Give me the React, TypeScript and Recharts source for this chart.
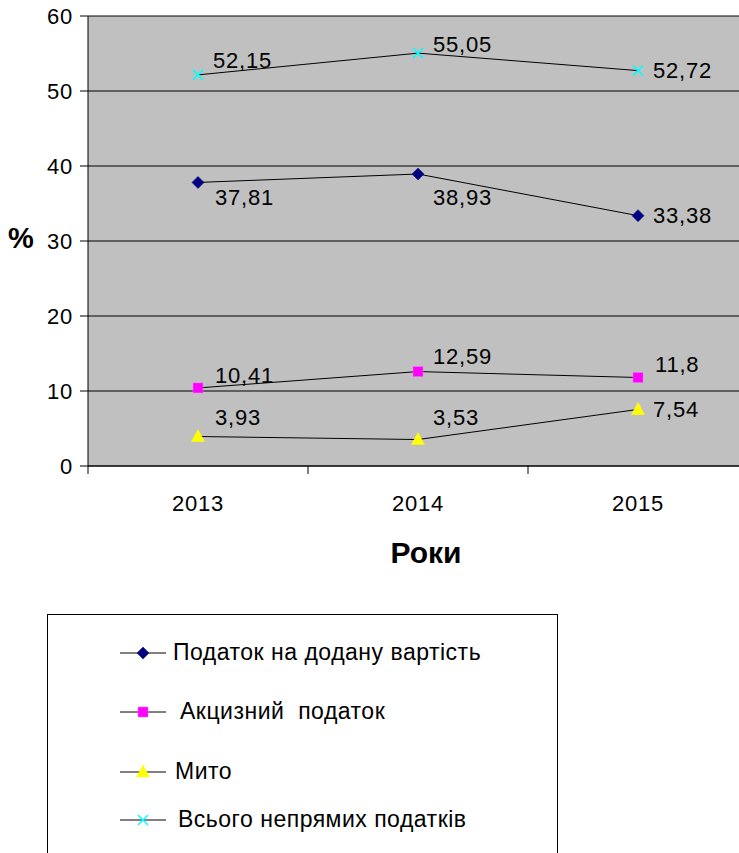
import React from 'react';
import { LineChart, Line, XAxis, YAxis, CartesianGrid, LabelList, Label } from 'recharts';

// ---- data ----
const years = ['2013', '2014', '2015'];
const vatValues = [37.81, 38.93, 33.38];
const exciseValues = [10.41, 12.59, 11.8];
const dutyValues = [3.93, 3.53, 7.54];
const totalValues = [52.15, 55.05, 52.72];
const yTicks = [0, 10, 20, 30, 40, 50, 60];
const seriesNames = {
  vat: 'Податок на додану вартість',
  excise: 'Акцизний  податок',
  duty: 'Мито',
  total: 'Всього непрямих податків',
};
const xTitle = 'Роки';
const yTitle = '%';

const data = years.map((year, i) => ({
  x: i + 0.5,
  year,
  vat: vatValues[i],
  excise: exciseValues[i],
  duty: dutyValues[i],
  total: totalValues[i],
}));

// ---- styles ----
const FONT = '"Liberation Sans", Arial, sans-serif';
const FS = 22;
const COLORS = { vat: '#000080', excise: '#FF00FF', duty: '#FFFF00', total: '#00FFFF' };

// label offsets (dx from marker to text start, dy from marker to text centre)
const LABEL_OFFSETS: Record<string, { dx: number; dy: number }[]> = {
  total: [{ dx: 15, dy: -15 }, { dx: 15, dy: -9 }, { dx: 15, dy: -1 }],
  vat: [{ dx: 17, dy: 15 }, { dx: 15, dy: 23 }, { dx: 15, dy: -1 }],
  excise: [{ dx: 17, dy: -13 }, { dx: 15, dy: -15 }, { dx: 17, dy: -13 }],
  duty: [{ dx: 17, dy: -19 }, { dx: 15, dy: -22 }, { dx: 15, dy: 0 }],
};

const fmt = (v: number) => String(v).replace('.', ',');

const makeLabel = (key: string) => (props: any) => {
  const { x, y, value, index } = props;
  const o = LABEL_OFFSETS[key][index] || { dx: 15, dy: 0 };
  return (
    <text
      key={`${key}-lbl-${index}`}
      x={x + o.dx}
      y={y + o.dy}
      dy="0.36em"
      fontSize={FS}
      fontFamily={FONT}
      fill="#000"
      letterSpacing={0.8}
      textAnchor="start"
    >
      {fmt(value)}
    </text>
  );
};

const Marker = ({ kind, cx, cy }: { kind: string; cx: number; cy: number }) => {
  if (kind === 'vat') {
    const r = 6;
    return (
      <polygon
        points={`${cx},${cy - r} ${cx + r},${cy} ${cx},${cy + r} ${cx - r},${cy}`}
        fill={COLORS.vat}
        stroke={COLORS.vat}
        strokeWidth={0.5}
      />
    );
  }
  if (kind === 'excise') {
    return <rect x={cx - 5} y={cy - 5} width={10} height={10} fill={COLORS.excise} stroke="#ff66ff" strokeWidth={0.5} />;
  }
  if (kind === 'duty') {
    return (
      <polygon
        points={`${cx},${cy - 7} ${cx + 6.5},${cy + 5} ${cx - 6.5},${cy + 5}`}
        fill={COLORS.duty}
        stroke={COLORS.duty}
        strokeWidth={0.5}
      />
    );
  }
  const r = 5;
  return (
    <g stroke={COLORS.total} strokeWidth={1.5}>
      <line x1={cx - r} y1={cy - r} x2={cx + r} y2={cy + r} />
      <line x1={cx - r} y1={cy + r} x2={cx + r} y2={cy - r} />
    </g>
  );
};

const makeDot = (kind: string) => (props: any) => {
  const { cx, cy, index } = props;
  return (
    <g key={`${kind}-dot-${index}`}>
      <Marker kind={kind} cx={cx} cy={cy} />
    </g>
  );
};

const XTick = (props: any) => {
  const { x, y, payload } = props;
  const v = payload.value;
  if (Number.isInteger(v)) {
    return <line x1={x} x2={x} y1={y} y2={y + 8} stroke="#000" strokeWidth={1} />;
  }
  const label = years[Math.floor(v)];
  return (
    <text x={x} y={y + 45} textAnchor="middle" fontSize={FS} fontFamily={FONT} fill="#000" letterSpacing={0.8}>
      {label}
    </text>
  );
};

const seriesOrder = ['vat', 'excise', 'duty', 'total'] as const;

const legendRows = [
  { key: 'vat', top: 653, textX: 173 },
  { key: 'excise', top: 712, textX: 180 },
  { key: 'duty', top: 772, textX: 175 },
  { key: 'total', top: 820, textX: 178 },
];

export default function App() {
  return (
    <div
      style={{
        position: 'absolute',
        left: 0,
        top: 0,
        width: 739,
        height: 853,
        overflow: 'hidden',
        background: '#fff',
      }}
    >
      <LineChart width={760} height={853} data={data} margin={{ top: 16, right: 12, bottom: 0, left: 0 }}>
        <CartesianGrid horizontal vertical={false} stroke="#000" fill="#C0C0C0" fillOpacity={1} />
        <XAxis
          dataKey="x"
          type="number"
          domain={[0, 3]}
          ticks={[0, 0.5, 1, 1.5, 2, 2.5, 3]}
          interval={0}
          tickLine={false}
          tickSize={0}
          tickMargin={0}
          axisLine={{ stroke: '#000' }}
          height={387}
          tick={<XTick />}
        >
          <Label
            content={(p: any) => {
              const vb = p.viewBox || { x: 88, y: 466 };
              return (
                <text
                  x={vb.x + 338}
                  y={vb.y + 97}
                  textAnchor="middle"
                  fontSize={30}
                  fontWeight="bold"
                  fontFamily={FONT}
                  fill="#000"
                >
                  {xTitle}
                </text>
              );
            }}
          />
        </XAxis>
        <YAxis
          domain={[0, 60]}
          ticks={yTicks}
          interval={0}
          width={88}
          tickSize={8}
          tickMargin={7}
          tickLine={{ stroke: '#000' }}
          axisLine={{ stroke: '#000' }}
          tick={{ fontSize: FS, fontFamily: FONT, fill: '#000', letterSpacing: 0.8 } as any}
        >
          <Label
            content={(p: any) => {
              const vb = p.viewBox || { x: 0, y: 16 };
              return (
                <text
                  x={vb.x + 21}
                  y={vb.y + 232}
                  textAnchor="middle"
                  fontSize={29}
                  fontWeight="bold"
                  fontFamily={FONT}
                  fill="#000"
                >
                  {yTitle}
                </text>
              );
            }}
          />
        </YAxis>
        {seriesOrder.map((k) => (
          <Line
            key={k}
            type="linear"
            dataKey={k}
            name={seriesNames[k]}
            stroke="#000"
            strokeWidth={1}
            dot={makeDot(k)}
            activeDot={false}
            isAnimationActive={false}
          >
            <LabelList dataKey={k} content={makeLabel(k)} />
          </Line>
        ))}
      </LineChart>

      <div
        style={{
          position: 'absolute',
          left: 47,
          top: 614,
          width: 511,
          height: 260,
          border: '1px solid #000',
          background: '#fff',
          boxSizing: 'border-box',
        }}
      />
      {legendRows.map((r) => (
        <React.Fragment key={r.key}>
          <svg
            style={{ position: 'absolute', left: 115, top: r.top - 10, overflow: 'visible' }}
            width={56}
            height={20}
          >
            <line x1={5} x2={51} y1={10} y2={10} stroke="#000" strokeWidth={1} />
            <Marker kind={r.key} cx={28} cy={10} />
          </svg>
          <div
            style={{
              position: 'absolute',
              left: r.textX,
              top: r.top - 14,
              fontFamily: FONT,
              fontSize: 23,
              lineHeight: '27px',
              whiteSpace: 'pre',
              color: '#000',
              letterSpacing: 0.5,
            }}
          >
            {seriesNames[r.key as keyof typeof seriesNames]}
          </div>
        </React.Fragment>
      ))}
    </div>
  );
}
